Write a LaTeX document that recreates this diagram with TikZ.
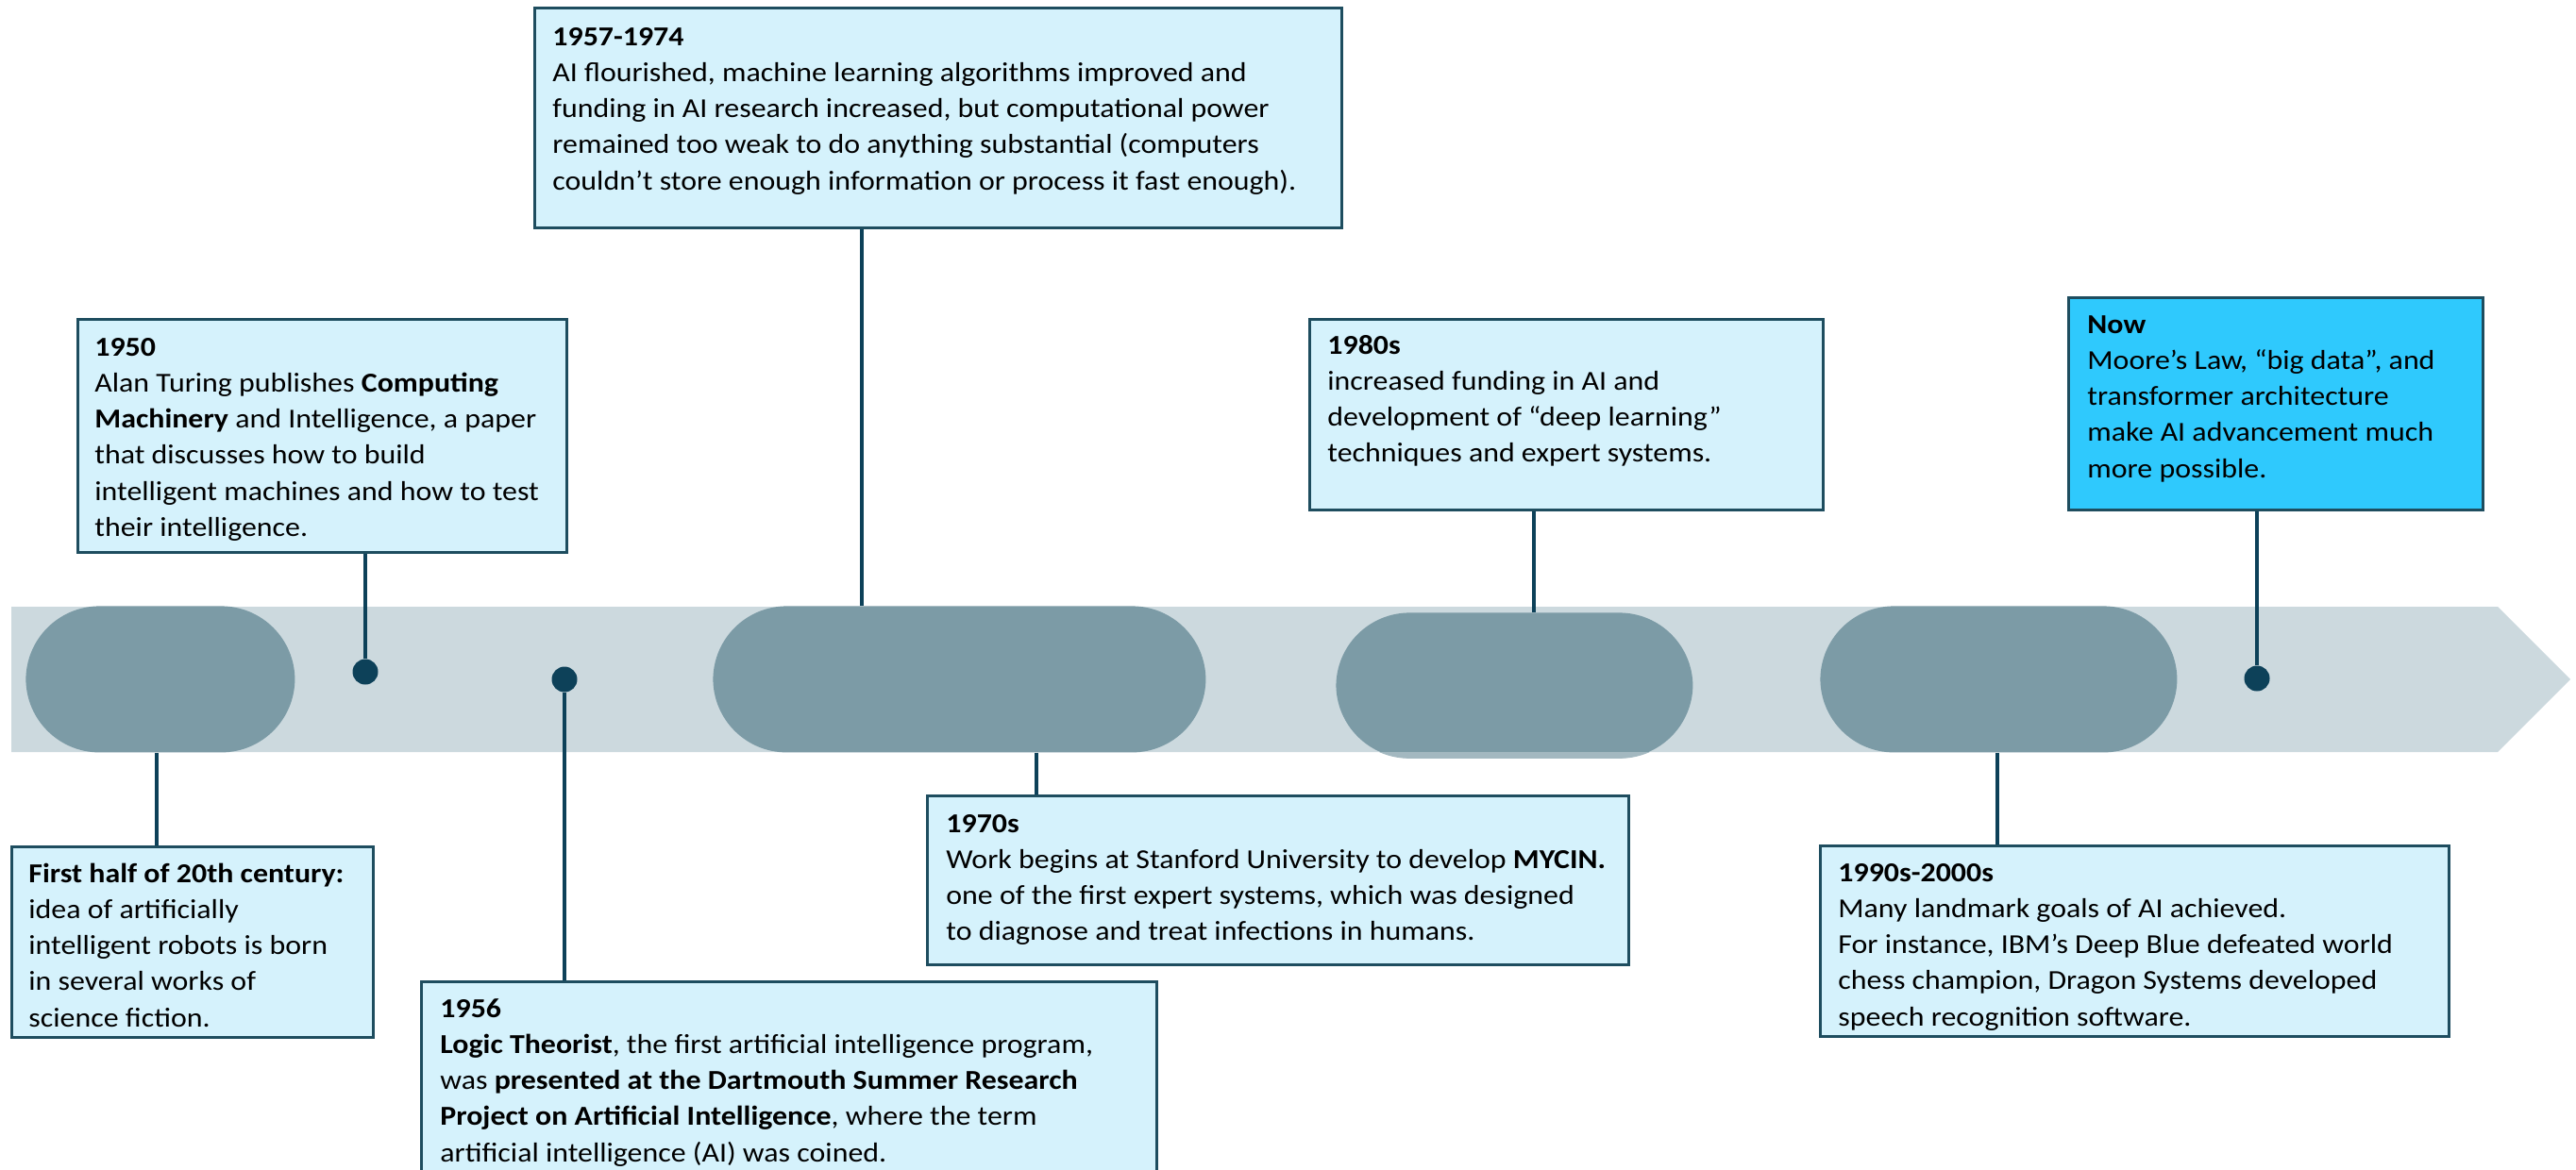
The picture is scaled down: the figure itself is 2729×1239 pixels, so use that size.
\documentclass[tikz,border=0pt]{standalone}
\usepackage{fontspec}
\setmainfont{Carlito}[FakeStretch=1.1]
\usetikzlibrary{calc}

\definecolor{bandcol}{HTML}{CCD9DE}
\definecolor{pillcol}{HTML}{7C9BA6}
\definecolor{pilllight}{HTML}{A3B8C0}
\definecolor{boxfill}{HTML}{D5F2FC}
\definecolor{nowfill}{HTML}{2FC9FD}
\definecolor{boxline}{HTML}{1E4D5F}
\definecolor{conncol}{HTML}{0D4159}

% one event box: name, left, top, right, bottom, extra style
\newcommand\evbox[6]{%
  \node[evframe,#6,anchor=north west,
        minimum width={(#4-#2)*0.5pt},minimum height={(#5-#3)*0.5pt}] (#1) at (#2,#3) {};}
% one timeline pill: name, left, top, right, bottom
\newcommand\evpill[5]{%
  \node[pillshape,anchor=north west,
        minimum width={(#4-#2)*0.5pt},minimum height={(#5-#3)*0.5pt}] (#1) at (#2,#3) {};}

\begin{document}
\begin{tikzpicture}[x=0.5pt,y=-0.5pt,
  evframe/.style={draw=boxline,line width=1.3pt,fill=boxfill,inner sep=0pt,rectangle},
  pillshape/.style={fill=pillcol,rounded corners=39pt,inner sep=0pt,rectangle},
  evtext/.style={anchor=base west,inner sep=0pt,text=black,
     font=\fontsize{14.5pt}{19.15pt}\selectfont},
  conn/.style={draw=conncol,line width=2pt},
  dotmark/.style={circle,fill=conncol,minimum size=13.5pt,inner sep=0pt}]

\useasboundingbox (0,0) rectangle (2729,1239);
\begin{scope}
\clip (0,0) rectangle (2729,1239);

% timeline arrow band
\fill[bandcol] (12,643) -- (2646,643) -- (2723,720) -- (2646,797) -- (12,797) -- cycle;

% pills on the band
\evpill{p1}{27}{642}{312}{797}
\evpill{p2}{755}{642}{1277}{797}
\evpill{p3}{1415}{649}{1793}{803}
\evpill{p4}{1928}{642}{2306}{797}
% the part of the third pill that hangs below the band is paler
\begin{scope}
  \clip (1400,797) rectangle (1810,810);
  \fill[pilllight,rounded corners=39pt] (p3.north west) rectangle (p3.south east);
\end{scope}

% dots on the band
\node[dotmark] (d1950) at (387,712) {};
\node[dotmark] (d1956) at (598,720) {};
\node[dotmark] (dnow) at (2391,719) {};

% event boxes
\evbox{bfh}{11}{896}{394}{1098}{}
\evbox{b1950}{81}{337}{599}{584}{}
\evbox{b1956}{445}{1039}{1224}{1300}{}
\evbox{b5774}{565}{7}{1420}{240}{}
\evbox{b1970}{981}{842}{1724}{1021}{}
\evbox{b1980}{1386}{337}{1930}{539}{}
\evbox{b1990}{1927}{895}{2593}{1097}{}
\evbox{bnow}{2190}{314}{2629}{539}{fill=nowfill}

% connectors
\draw[conn] (166,0 |- p1.south) -- (166,0 |- bfh.north);
\draw[conn] (387,0 |- b1950.south) -- (d1950);
\draw[conn] (d1956) -- (598,0 |- b1956.north);
\draw[conn] (913,0 |- b5774.south) -- (913,0 |- p2.north);
\draw[conn] (1098,0 |- p2.south) -- (1098,0 |- b1970.north);
\draw[conn] (1625,0 |- b1980.south) -- (1625,0 |- p3.north);
\draw[conn] (2116,0 |- p4.south) -- (2116,0 |- b1990.north);
\draw[conn] (2391,0 |- bnow.south) -- (dnow);

% texts
\node[evtext] (tfh) at ([shift={(19,39)}]bfh.north west) {\parbox[t]{200pt}{\raggedright
  \textbf{First half of 20th century:}\\
  idea of artificially\\
  intelligent robots is born\\
  in several works of\\
  science fiction.}};
\node[evtext] (t1950) at ([shift={(19,40)}]b1950.north west) {\parbox[t]{260pt}{\raggedright
  \textbf{1950}\\
  Alan Turing publishes \textbf{Computing}\\
  \textbf{Machinery} and Intelligence, a paper\\
  that discusses how to build\\
  intelligent machines and how to test\\
  their intelligence.}};
\node[evtext] (t1956) at ([shift={(21,39)}]b1956.north west) {\parbox[t]{400pt}{\raggedright
  \textbf{1956}\\
  \textbf{Logic Theorist}, the first artificial intelligence program,\\
  was \textbf{presented at the Dartmouth Summer Research}\\
  \textbf{Project on Artificial Intelligence}, where the term\\
  artificial intelligence (AI) was coined.}};
\node[evtext] (t5774) at ([shift={(20,41)}]b5774.north west) {\parbox[t]{430pt}{\raggedright
  \textbf{1957-1974}\\
  AI flourished, machine learning algorithms improved and\\
  funding in AI research increased, but computational power\\
  remained too weak to do anything substantial (computers\\
  couldn’t store enough information or process it fast enough).}};
\node[evtext] (t1970) at ([shift={(21,40)}]b1970.north west) {\parbox[t]{380pt}{\raggedright
  \textbf{1970s}\\
  Work begins at Stanford University to develop \textbf{MYCIN.}\\
  one of the first expert systems, which was designed\\
  to diagnose and treat infections in humans.}};
\node[evtext] (t1980) at ([shift={(20,38)}]b1980.north west) {\parbox[t]{270pt}{\raggedright
  \textbf{1980s}\\
  increased funding in AI and\\
  development of “deep learning”\\
  techniques and expert systems.}};
\node[evtext] (t1990) at ([shift={(20,39)}]b1990.north west) {\parbox[t]{330pt}{\raggedright
  \textbf{1990s-2000s}\\
  Many landmark goals of AI achieved.\\
  For instance, IBM’s Deep Blue defeated world\\
  chess champion, Dragon Systems developed\\
  speech recognition software.}};
\node[evtext] (tnow) at ([shift={(21,39)}]bnow.north west) {\parbox[t]{220pt}{\raggedright
  \textbf{Now}\\
  Moore’s Law, “big data”, and\\
  transformer architecture\\
  make AI advancement much\\
  more possible.}};
\end{scope}
\end{tikzpicture}
\end{document}
